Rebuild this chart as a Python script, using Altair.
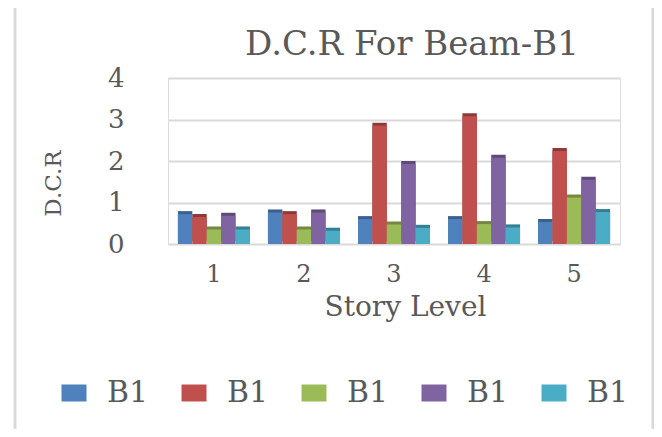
import altair as alt
import pandas as pd

chart_title = "D.C.R For Beam-B1"
stories = ["1", "2", "3", "4", "5"]
series = ["s1", "s2", "s3", "s4", "s5"]
series_labels = ["B1", "B1", "B1", "B1", "B1"]
blue = [0.72, 0.76, 0.60, 0.60, 0.53]
red = [0.65, 0.72, 2.85, 3.08, 2.24]
green = [0.35, 0.35, 0.47, 0.48, 1.12]
purple = [0.68, 0.76, 1.93, 2.08, 1.55]
cyan = [0.35, 0.32, 0.39, 0.40, 0.77]
colors = ["#4F81BD", "#C0504D", "#9BBB59", "#8064A2", "#4BACC6"]
dark = ["#3A6090", "#8E3A38", "#73893F", "#5E4A78", "#347F93"]

rows = []
for s, d, vals in zip(series, dark, [blue, red, green, purple, cyan]):
    for st, v in zip(stories, vals):
        rows.append({"story": st, "series": s, "dcr": v, "side": d})
df = pd.DataFrame(rows)

FONT = "DejaVu Serif"
GRAY = "#595959"

x = alt.X("story:N", sort=stories,
          scale=alt.Scale(paddingInner=0.2, paddingOuter=0.11),
          axis=alt.Axis(title="Story Level", labelAngle=0, domain=False, ticks=False,
                        labelFont=FONT, labelFontSize=24, labelColor=GRAY, labelPadding=18,
                        titleFont=FONT, titleFontSize=28, titleFontWeight="normal",
                        titleColor=GRAY, titleX=237, titleY=63, titleBaseline="middle"))
y = alt.Y("dcr:Q", scale=alt.Scale(domain=[0, 4]),
          axis=alt.Axis(title="D.C.R", values=[0, 1, 2, 3, 4], format="d",
                        domain=False, ticks=False, grid=True, gridColor="#d9d9d9",
                        gridWidth=2, labelFont=FONT, labelFontSize=26, labelColor=GRAY,
                        labelPadding=44, titleFont=FONT, titleFontSize=23,
                        titleFontWeight="normal", titleColor=GRAY, titleX=-115,
                        titleY=105, titleBaseline="middle", titleAlign="center"))
xo = alt.XOffset("series:N", sort=series, scale=alt.Scale(paddingInner=0, paddingOuter=0))

shadow = alt.Chart(df).mark_bar(xOffset=4, yOffset=-3).encode(
    x=x, y=y, xOffset=xo,
    color=alt.Color("side:N", scale=None),
)

labexpr = "{" + ",".join(f"'{s}':'{l}'" for s, l in zip(series, series_labels)) + "}[datum.value]"

front = alt.Chart(df).mark_bar().encode(
    x=x, y=y, xOffset=xo,
    color=alt.Color("series:N", sort=series,
                    scale=alt.Scale(domain=series, range=colors),
                    legend=alt.Legend(title=None, orient="none", direction="horizontal",
                                      columns=5, legendX=-109, legendY=300,
                                      symbolType="M-1.25,-0.85H1.25V0.85H-1.25Z",
                                      symbolSize=400, symbolStrokeWidth=0,
                                      labelFont=FONT, labelFontSize=30, labelColor=GRAY,
                                      labelOffset=18, columnPadding=30,
                                      labelExpr=labexpr)),
)

frame = alt.Chart(pd.DataFrame({"a": [0]})).mark_rect(
    fill=None, stroke="#d9d9d9", strokeWidth=3, clip=False
).encode(x=alt.value(-153), x2=alt.value(485), y=alt.value(-72), y2=alt.value(420))

title = alt.Chart(pd.DataFrame({"t": [chart_title]})).mark_text(
    font=FONT, fontSize=34, color=GRAY, align="center", baseline="alphabetic"
).encode(x=alt.value(244), y=alt.value(-23), text="t:N")

chart = alt.layer(frame, shadow, front, title).properties(
    width=452, height=166,
    padding={"left": 160, "top": 70, "right": 34, "bottom": 185},
    autosize=alt.AutoSizeParams(type="none"),
).configure_view(strokeWidth=0).configure(background="white")

chart.save("out.html", embed_options={"renderer": "svg", "actions": False})
